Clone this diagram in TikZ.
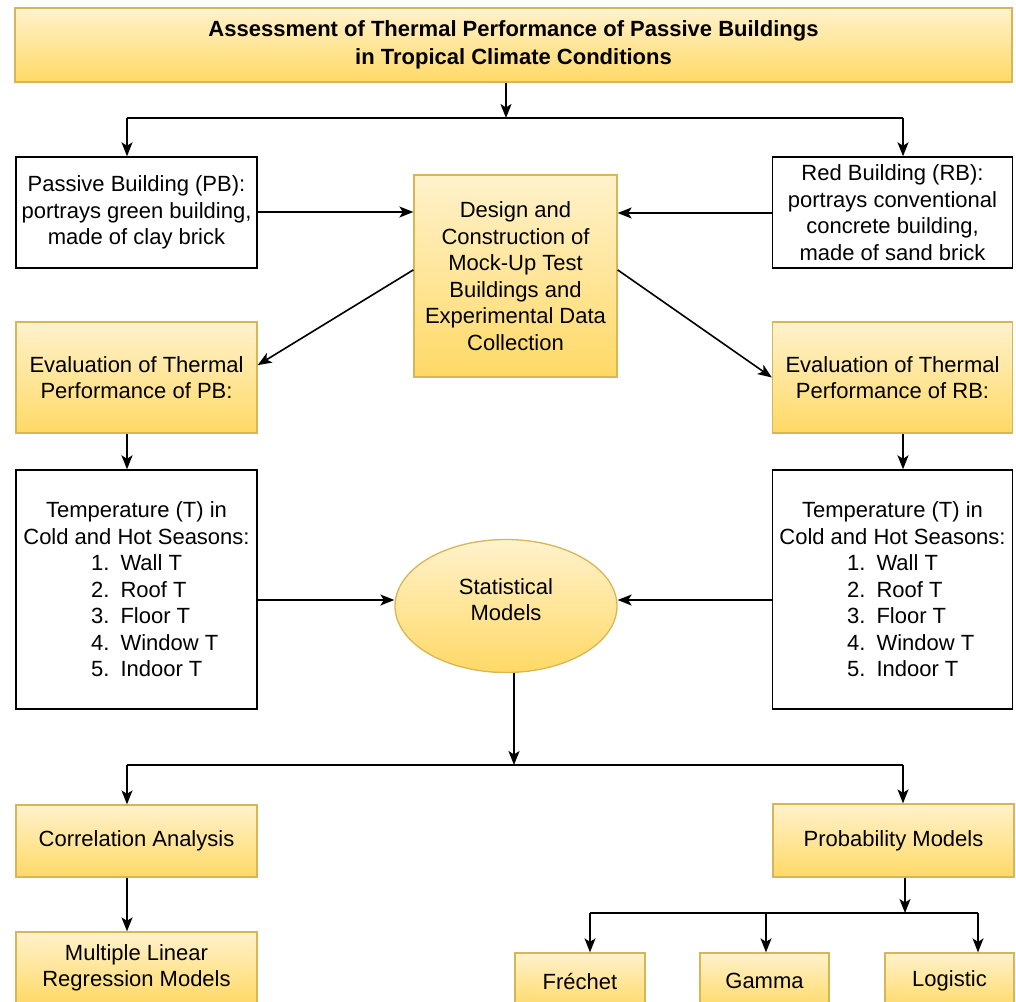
\documentclass[tikz,border=0pt]{standalone}
\usepackage{fontspec}
\setmainfont{Liberation Sans}
\usepackage{xcolor}
\usetikzlibrary{shapes.geometric,arrows.meta,positioning,calc}
\definecolor{boxtop}{HTML}{FFF2CC}
\definecolor{boxbot}{HTML}{FFD966}
\definecolor{boxline}{HTML}{D6B656}
\newcommand{\titem}[2]{\hspace*{46pt}\makebox[128pt][l]{\makebox[14pt][r]{#1}\hspace{11pt}#2}}
\tikzset{
  txt/.style={font=\fontsize{22}{26.5}\selectfont, align=center, inner sep=0pt},
  yellowbox/.style={txt, rectangle, draw=boxline, line width=1.3pt, top color=boxtop, bottom color=boxbot},
  whitebox/.style={txt, rectangle, draw=black, line width=1.4pt, fill=white},
  arr/.style={line width=1.6pt, -{Stealth[length=14pt,width=11pt,inset=3.5pt]}},
  ln/.style={line width=1.6pt}
}
\begin{document}
\begin{tikzpicture}[x=1pt,y=-1pt]
    \useasboundingbox (0,0) rectangle (1016,1001);
    \clip (0,0) rectangle (1016,1001);

    % Title
    \node[yellowbox, minimum width=997pt, minimum height=74pt] (title) at (513.5,45)
        {\textbf{Assessment of Thermal Performance of Passive Buildings}\\[1pt]\textbf{in Tropical Climate Conditions}};

    % Buildings
    \node[whitebox, minimum width=241pt, minimum height=111pt] (pb) at (136.5,212.5)
        {Passive Building (PB):\\portrays green building,\\made of clay brick};
    \node[whitebox, minimum width=240pt, minimum height=111pt] (rb) at (892.5,212.5)
        {Red Building (RB):\\portrays conventional\\concrete building,\\made of sand brick};
    \node[yellowbox, minimum width=203pt, minimum height=202pt] (design) at (515.5,276)
        {Design and\\Construction of\\Mock-Up Test\\Buildings and\\Experimental Data\\Collection};

    % Evaluation
    \node[yellowbox, minimum width=241pt, minimum height=111pt] (evalpb) at (136.5,377.5)
        {Evaluation of Thermal\\Performance of PB:};
    \node[yellowbox, minimum width=240pt, minimum height=111pt] (evalrb) at (892.5,377.5)
        {Evaluation of Thermal\\Performance of RB:};

    % Temperatures
    \node[whitebox, minimum width=241pt, minimum height=239pt] (temppb) at (136.5,589.5)
        {Temperature (T) in\\Cold and Hot Seasons:\\
         \titem{1.}{Wall T}\\\titem{2.}{Roof T}\\\titem{3.}{Floor T}\\\titem{4.}{Window T}\\\titem{5.}{Indoor T}};
    \node[whitebox, minimum width=240pt, minimum height=239pt] (temprb) at (892.5,589.5)
        {Temperature (T) in\\Cold and Hot Seasons:\\
         \titem{1.}{Wall T}\\\titem{2.}{Roof T}\\\titem{3.}{Floor T}\\\titem{4.}{Window T}\\\titem{5.}{Indoor T}};
    \node[yellowbox, ellipse, minimum width=222pt, minimum height=133pt] (stat) at (506,606)
        {\raisebox{1pt}[0pt][0pt]{\parbox{150pt}{\centering Statistical\\Models}}};

    % Analyses
    \node[yellowbox, minimum width=241pt, minimum height=72pt] (corr) at (136.5,841)
        {Correlation Analysis};
    \node[yellowbox, minimum width=241pt, minimum height=73pt] (prob) at (893.5,840.5)
        {Probability Models};
    \node[yellowbox, minimum width=241pt, minimum height=72pt] (mlr) at (136.5,968)
        {Multiple Linear\\Regression Models};
    \node[yellowbox, minimum width=130pt, minimum height=56pt] (frechet) at (580,981) {Fréchet};
    \node[yellowbox, minimum width=129pt, minimum height=56pt] (gamma) at (764.5,981) {Gamma};
    \node[yellowbox, minimum width=129pt, minimum height=56pt] (logistic) at (949.5,981) {Logistic};

    % Branch points
    \coordinate (topsplit) at (506,118);
    \coordinate (topl) at (127,118);
    \coordinate (topr) at (903,118);
    \coordinate (midsplit) at (514,765);
    \coordinate (midl) at (127,765);
    \coordinate (midr) at (903,765);
    \coordinate (botsplit) at (905,913);
    \coordinate (botl) at (590,913);
    \coordinate (botm) at (766,913);
    \coordinate (botr) at (978,913);

    % Top connectors
    \draw[arr] (title.south -| topsplit) -- (topsplit);
    \draw[ln] (topl) -- (topr);
    \draw[arr] (topl) -- (topl |- pb.north);
    \draw[arr] (topr) -- (topr |- rb.north);
    \draw[arr] ([yshift=0.5pt]pb.east) -- ([yshift=0.5pt]pb.east -| design.west);
    \draw[arr] ([yshift=-0.5pt]rb.west) -- ([yshift=-0.5pt]rb.west -| design.east);
    \draw[arr] ($(design.north west)!0.47!(design.south west)$) -- ($(evalpb.north east)!0.39!(evalpb.south east)$);
    \draw[arr] ($(design.north east)!0.47!(design.south east)$) -- (evalrb.west);
    \draw[arr] (topl |- evalpb.south) -- (topl |- temppb.north);
    \draw[arr] (topr |- evalrb.south) -- (topr |- temprb.north);

    % Statistical connectors
    \draw[arr] ([yshift=-10.5pt]temppb.east) -- ([yshift=-10.5pt]temppb.east -| stat.west);
    \draw[arr] ([yshift=-10.5pt]temprb.west) -- ([yshift=-10.5pt]temprb.west -| stat.east);
    \draw[arr] (midsplit |- stat.south) -- (midsplit);
    \draw[ln] (midl) -- (midr);
    \draw[arr] (midl) -- (midl |- corr.north);
    \draw[arr] (midr) -- (midr |- prob.north);
    \draw[arr] (midl |- corr.south) -- (midl |- mlr.north);

    % Probability connectors
    \draw[arr] (botsplit |- prob.south) -- (botsplit);
    \draw[ln] (botl) -- (botr);
    \draw[arr] (botl) -- (botl |- frechet.north);
    \draw[arr] (botm) -- (botm |- gamma.north);
    \draw[arr] (botr) -- (botr |- logistic.north);
\end{tikzpicture}
\end{document}
